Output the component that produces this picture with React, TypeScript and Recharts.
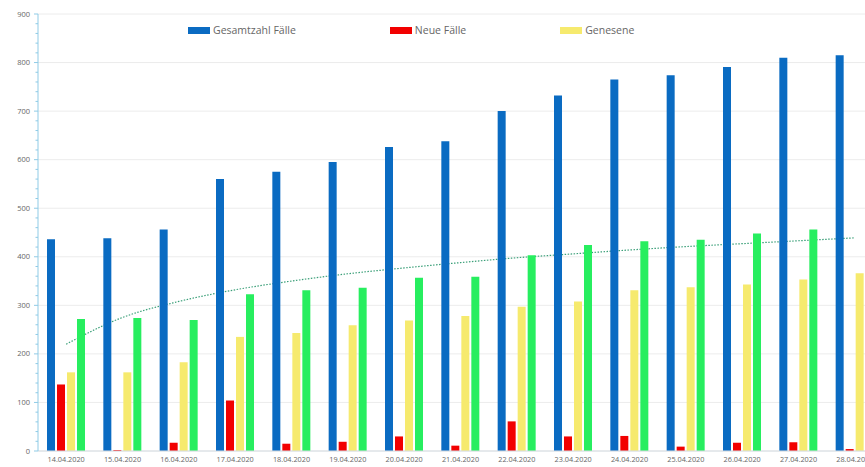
import React from 'react';
import { ComposedChart, Bar, Line, XAxis, YAxis, CartesianGrid, Legend } from 'recharts';

const dates = [
  '14.04.2020', '15.04.2020', '16.04.2020', '17.04.2020', '18.04.2020',
  '19.04.2020', '20.04.2020', '21.04.2020', '22.04.2020', '23.04.2020',
  '24.04.2020', '25.04.2020', '26.04.2020', '27.04.2020', '28.04.2020',
];
const gesamt = [436, 438, 456, 560, 575, 595, 626, 638, 700, 732, 765, 774, 791, 810, 815];
const neue = [137, 2, 17, 104, 15, 19, 30, 11, 61, 30, 31, 9, 17, 18, 4];
const genesene = [162, 162, 183, 235, 243, 259, 269, 278, 297, 308, 331, 337, 343, 353, 366];
const aktive = [272, 274, 270, 323, 331, 336, 357, 359, 403, 424, 432, 435, 448, 456, 449];
const trend = [220, 275, 308, 332, 350, 365, 377, 388, 398, 406, 414, 421, 427, 433, 439];

const Y_MAJOR = [0, 100, 200, 300, 400, 500, 600, 700, 800, 900];
// minor ticks every 20 on the y axis
const Y_TICKS = Array.from({ length: 46 }, (_, i) => i * 20);

// only these three show up in the legend, in this order
const LEGEND_ORDER = ['Gesamtzahl Fälle', 'Neue Fälle', 'Genesene'];

const COLORS = {
  gesamt: '#0a6bc2',
  neue: '#f20000',
  genesene: '#f6ea6e',
  aktive: '#27ee5f',
  trend: '#3a9f78',
};

const FONT = '"Open Sans", "Noto Sans", sans-serif';

const chartData = dates.map((d, i) => ({
  date: d,
  gesamt: gesamt[i],
  neue: neue[i],
  genesene: genesene[i],
  aktive: aktive[i],
  trend: trend[i],
}));

const YTick = ({ x, y, payload }: any) => {
  const major = payload.value % 100 === 0;
  return (
    <g>
      <line x1={x - (major ? 4 : 2.5)} x2={x} y1={y} y2={y} stroke="#8fcbe6" strokeWidth={1} />
      {major && (
        <text x={x - 8} y={y} dy={2.6} textAnchor="end" fontSize={7.5} fill="#666" fontFamily={FONT}>
          {payload.value}
        </text>
      )}
    </g>
  );
};

const LegendContent = ({ payload }: any) => {
  const items = LEGEND_ORDER
    .map(name => (payload || []).find((p: any) => p.value === name))
    .filter(Boolean);
  return (
    <div style={{ display: 'flex', alignItems: 'center', fontFamily: FONT, whiteSpace: 'nowrap' }}>
      {items.map((item: any) => (
        <div key={item.value} style={{ display: 'flex', alignItems: 'center', marginRight: 94 }}>
          <span style={{ display: 'inline-block', width: 22, height: 7, background: item.color }} />
          <span style={{ marginLeft: 3, fontSize: 10.5, color: '#666' }}>{item.value}</span>
        </div>
      ))}
    </div>
  );
};

export default function App() {
  return (
    <div style={{ position: 'absolute', left: 0, top: 0, width: 865, height: 467, overflow: 'hidden', background: '#fff' }}>
      <ComposedChart
        width={895}
        height={467}
        data={chartData}
        margin={{ top: 14, right: 12, bottom: 0, left: 0 }}
        barSize={8}
        barGap={2}
      >
        <CartesianGrid vertical={false} stroke="#ececec" horizontalValues={Y_MAJOR} />
        <XAxis
          dataKey="date"
          height={16}
          tickLine={false}
          tickSize={0}
          tickMargin={6}
          axisLine={{ stroke: '#d6dde3' }}
          interval={0}
          tick={{ fontSize: 7.3, fill: '#666', fontFamily: FONT }}
        />
        <YAxis
          width={38}
          domain={[0, 900]}
          ticks={Y_TICKS}
          interval={0}
          tickLine={false}
          tickSize={0}
          tickMargin={0}
          axisLine={{ stroke: '#8fcbe6' }}
          tick={<YTick />}
        />
        <Line
          dataKey="trend"
          type="monotone"
          stroke={COLORS.trend}
          strokeWidth={1.2}
          strokeDasharray="1.5 1.5"
          dot={false}
          activeDot={false}
          legendType="none"
          isAnimationActive={false}
          zIndex={250}
        />
        <Bar dataKey="gesamt" name="Gesamtzahl Fälle" fill={COLORS.gesamt} isAnimationActive={false} />
        <Bar dataKey="neue" name="Neue Fälle" fill={COLORS.neue} isAnimationActive={false} />
        <Bar dataKey="genesene" name="Genesene" fill={COLORS.genesene} isAnimationActive={false} />
        <Bar dataKey="aktive" name="Aktive Fälle" fill={COLORS.aktive} legendType="none" isAnimationActive={false} />
        <Legend
          layout="horizontal"
          verticalAlign="middle"
          align="center"
          content={<LegendContent />}
          wrapperStyle={{ top: 23, left: 188, width: 620 }}
        />
      </ComposedChart>
    </div>
  );
}
